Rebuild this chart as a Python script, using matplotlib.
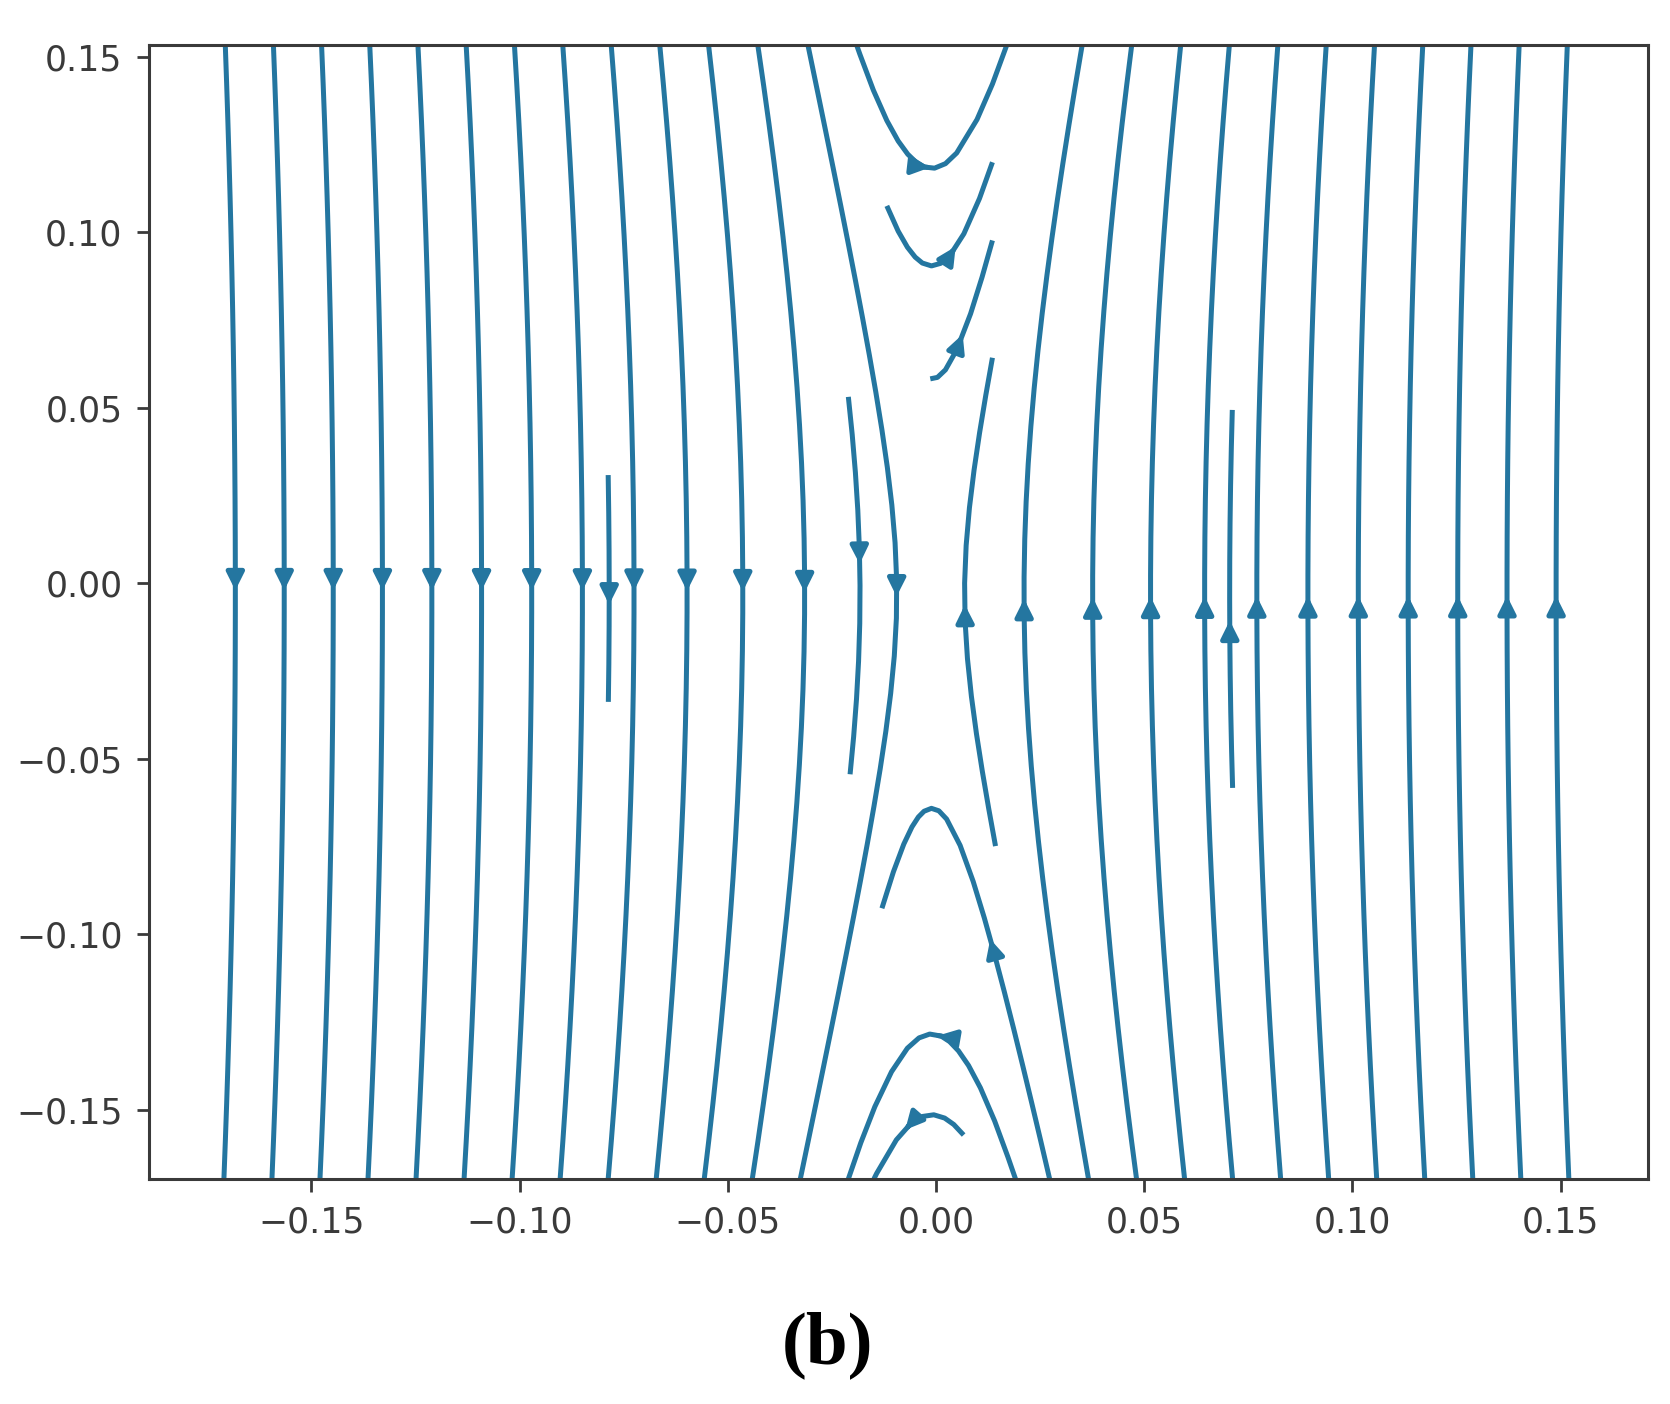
import numpy as np
import matplotlib
matplotlib.use("Agg")
import matplotlib.pyplot as plt

# 坐标轴范围
x_lim = [-0.189, 0.171]
y_lim = [-0.1697, 0.1533]

# 流线网格范围
x_range = [-0.171, 0.152]
y_range = [-0.1697, 0.1533]
n_grid = 120

# 鞍点位置与线性化系数 dx/dt = a*(y-y0), dy/dt = b*(x-x0)
saddle = [-0.001, -0.003]
coef_a = 1.0
coef_b = 30.0

x_ticks = [-0.15, -0.10, -0.05, 0.00, 0.05, 0.10, 0.15]
y_ticks = [-0.15, -0.10, -0.05, 0.00, 0.05, 0.10, 0.15]
caption = "(b)"

line_color = "#2476a0"

x = np.linspace(x_range[0], x_range[1], n_grid)
y = np.linspace(y_range[0], y_range[1], n_grid)
X, Y = np.meshgrid(x, y)
U = coef_a * (Y - saddle[1])
V = coef_b * (X - saddle[0])

fig = plt.figure(figsize=(16.7, 14.04), dpi=100)
ax = fig.add_axes([0.0892, 0.1603, 0.8976, 0.8077])

ax.streamplot(X, Y, U, V, density=(0.98, 1), color=line_color, linewidth=3.6, arrowsize=2.6)

ax.set_xlim(x_lim)
ax.set_ylim(y_lim)
ax.set_xticks(x_ticks)
ax.set_yticks(y_ticks)


def fmt(t):
    return "%.2f" % t if t >= 0 else "\u2212%.2f" % -t


ax.set_xticklabels([fmt(t) for t in x_ticks])
ax.set_yticklabels([fmt(t) for t in y_ticks])
ax.tick_params(labelsize=25, colors="#3a3a3a", length=9, width=2, pad=10)
for s in ax.spines.values():
    s.set_linewidth(2.2)
    s.set_color("#3a3a3a")

fig.text(0.4955, 0.042, caption, ha="center", va="center", fontsize=54,
         fontweight="bold", family="Liberation Serif")

fig.savefig("out.png", dpi=100)
